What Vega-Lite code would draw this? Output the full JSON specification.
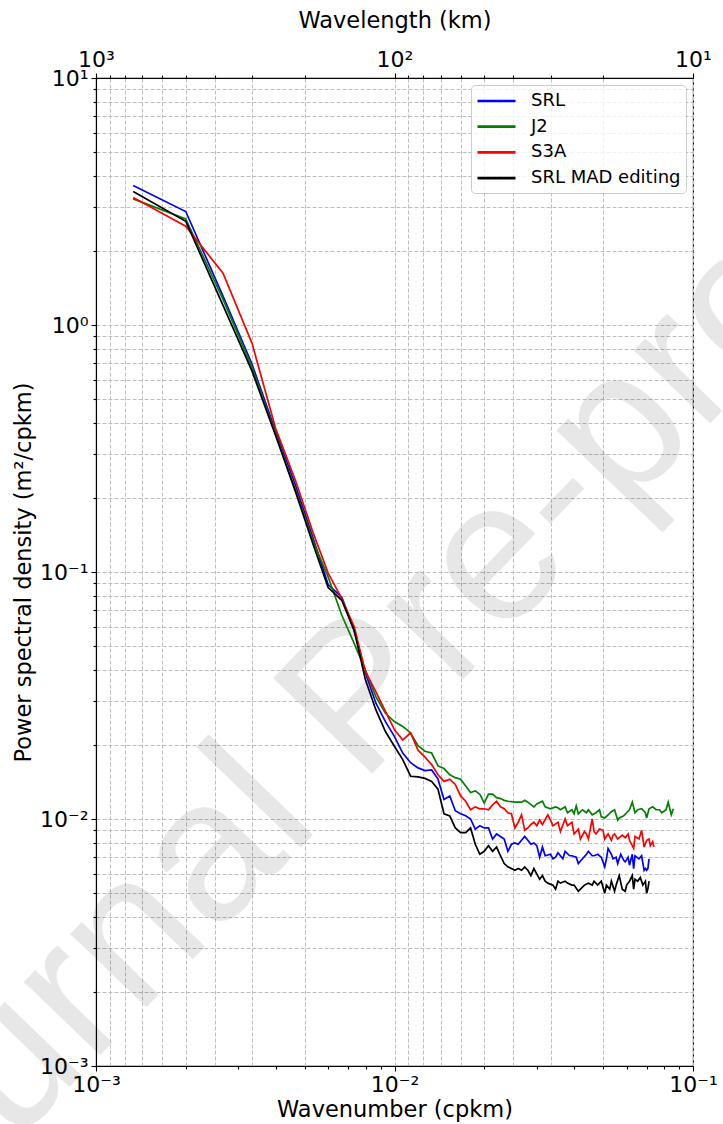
{
  "$schema": "https://vega.github.io/schema/vega-lite/v6.json",
  "autosize": {"type": "none"},
  "padding": {"left": 96, "top": 78, "right": 30, "bottom": 58},
  "width": 597,
  "height": 988,
  "background": "white",
  "config": {
    "font": "DejaVu Sans",
    "view": {"stroke": "#000000", "strokeWidth": 1.1},
    "axis": {
      "labelFont": "DejaVu Sans", "titleFont": "DejaVu Sans",
      "labelColor": "#000000", "titleColor": "#000000",
      "titleFontWeight": "normal", "domainColor": "#000000", "tickColor": "#000000",
      "tickWidth": 1.1, "domainWidth": 1.1,
      "labelFlush": false, "labelOverlap": false, "labelBound": false
    },
    "legend": {
      "orient": "top-right", "offset": 7,
      "symbolType": "M-1,0H3", "symbolSize": 361, "symbolStrokeWidth": 2.7,
      "labelFont": "DejaVu Sans", "labelFontSize": 18, "labelColor": "#000000", "labelOffset": 33,
      "fillColor": "rgba(255,255,255,0.8)", "strokeColor": "#cccccc", "cornerRadius": 4,
      "padding": 5, "rowPadding": 5.7
    }
  },
  "datasets": {
    "psd": [
      {"mission":"SRL","k":0.001332,"psd":3.67},{"mission":"SRL","k":0.001998,"psd":2.88},{"mission":"SRL","k":0.002664,"psd":1.31},{"mission":"SRL","k":0.00333,"psd":0.695},{"mission":"SRL","k":0.003996,"psd":0.372},{"mission":"SRL","k":0.004662,"psd":0.224},{"mission":"SRL","k":0.005328,"psd":0.138},{"mission":"SRL","k":0.005994,"psd":0.089},{"mission":"SRL","k":0.00666,"psd":0.079},{"mission":"SRL","k":0.007326,"psd":0.058},{"mission":"SRL","k":0.007992,"psd":0.039},{"mission":"SRL","k":0.008658,"psd":0.0295},{"mission":"SRL","k":0.009324,"psd":0.0248},{"mission":"SRL","k":0.00999,"psd":0.0216},{"mission":"SRL","k":0.010656,"psd":0.0185},{"mission":"SRL","k":0.011322,"psd":0.0169},{"mission":"SRL","k":0.011988,"psd":0.0161},{"mission":"SRL","k":0.012654,"psd":0.0157},{"mission":"SRL","k":0.01332,"psd":0.0158},{"mission":"SRL","k":0.013986,"psd":0.0145},{"mission":"SRL","k":0.014652,"psd":0.012},{"mission":"SRL","k":0.015318,"psd":0.0124},{"mission":"SRL","k":0.015984,"psd":0.0108},{"mission":"SRL","k":0.01665,"psd":0.0105},{"mission":"SRL","k":0.017316,"psd":0.0103},{"mission":"SRL","k":0.017982,"psd":0.01},{"mission":"SRL","k":0.018648,"psd":0.0091},{"mission":"SRL","k":0.019314,"psd":0.0094},{"mission":"SRL","k":0.01998,"psd":0.0092},{"mission":"SRL","k":0.020646,"psd":0.0092},{"mission":"SRL","k":0.021312,"psd":0.0083},{"mission":"SRL","k":0.021978,"psd":0.0087},{"mission":"SRL","k":0.022644,"psd":0.0085},{"mission":"SRL","k":0.02331,"psd":0.0083},{"mission":"SRL","k":0.023976,"psd":0.0074},{"mission":"SRL","k":0.024642,"psd":0.0079},{"mission":"SRL","k":0.025308,"psd":0.008},{"mission":"SRL","k":0.025974,"psd":0.0079},{"mission":"SRL","k":0.02664,"psd":0.0082},{"mission":"SRL","k":0.027306,"psd":0.0085},{"mission":"SRL","k":0.027972,"psd":0.0082},{"mission":"SRL","k":0.028638,"psd":0.0079},{"mission":"SRL","k":0.029304,"psd":0.008},{"mission":"SRL","k":0.02997,"psd":0.0078},{"mission":"SRL","k":0.030636,"psd":0.007},{"mission":"SRL","k":0.031302,"psd":0.0077},{"mission":"SRL","k":0.031968,"psd":0.0071},{"mission":"SRL","k":0.0333,"psd":0.0072},{"mission":"SRL","k":0.033966,"psd":0.0069},{"mission":"SRL","k":0.034632,"psd":0.007},{"mission":"SRL","k":0.035298,"psd":0.0073},{"mission":"SRL","k":0.03663,"psd":0.0069},{"mission":"SRL","k":0.037296,"psd":0.0074},{"mission":"SRL","k":0.038628,"psd":0.0071},{"mission":"SRL","k":0.039294,"psd":0.0071},{"mission":"SRL","k":0.040626,"psd":0.007},{"mission":"SRL","k":0.041292,"psd":0.0066},{"mission":"SRL","k":0.042624,"psd":0.0069},{"mission":"SRL","k":0.043956,"psd":0.0072},{"mission":"SRL","k":0.044622,"psd":0.0074},{"mission":"SRL","k":0.045954,"psd":0.0071},{"mission":"SRL","k":0.04662,"psd":0.0071},{"mission":"SRL","k":0.047952,"psd":0.0072},{"mission":"SRL","k":0.049284,"psd":0.007},{"mission":"SRL","k":0.050616,"psd":0.0064},{"mission":"SRL","k":0.051282,"psd":0.0069},{"mission":"SRL","k":0.051948,"psd":0.0076},{"mission":"SRL","k":0.05328,"psd":0.0072},{"mission":"SRL","k":0.053946,"psd":0.0069},{"mission":"SRL","k":0.055278,"psd":0.007},{"mission":"SRL","k":0.055944,"psd":0.0066},{"mission":"SRL","k":0.057276,"psd":0.0072},{"mission":"SRL","k":0.058608,"psd":0.0068},{"mission":"SRL","k":0.059274,"psd":0.0067},{"mission":"SRL","k":0.060606,"psd":0.007},{"mission":"SRL","k":0.061272,"psd":0.0065},{"mission":"SRL","k":0.062604,"psd":0.0072},{"mission":"SRL","k":0.06327,"psd":0.0063},{"mission":"SRL","k":0.063936,"psd":0.0071},{"mission":"SRL","k":0.065934,"psd":0.0069},{"mission":"SRL","k":0.067266,"psd":0.0071},{"mission":"SRL","k":0.068598,"psd":0.0062},{"mission":"SRL","k":0.069264,"psd":0.0063},{"mission":"SRL","k":0.06993,"psd":0.0062},{"mission":"SRL","k":0.070596,"psd":0.0063},{"mission":"SRL","k":0.071262,"psd":0.0069},
      {"mission":"J2","k":0.001332,"psd":3.24},{"mission":"J2","k":0.001998,"psd":2.69},{"mission":"J2","k":0.002664,"psd":1.27},{"mission":"J2","k":0.00333,"psd":0.675},{"mission":"J2","k":0.003996,"psd":0.362},{"mission":"J2","k":0.004662,"psd":0.214},{"mission":"J2","k":0.005328,"psd":0.134},{"mission":"J2","k":0.005994,"psd":0.0955},{"mission":"J2","k":0.00666,"psd":0.0668},{"mission":"J2","k":0.007326,"psd":0.0514},{"mission":"J2","k":0.007992,"psd":0.0401},{"mission":"J2","k":0.008658,"psd":0.0313},{"mission":"J2","k":0.009324,"psd":0.0268},{"mission":"J2","k":0.00999,"psd":0.0248},{"mission":"J2","k":0.010656,"psd":0.0237},{"mission":"J2","k":0.011322,"psd":0.0223},{"mission":"J2","k":0.011988,"psd":0.0198},{"mission":"J2","k":0.012654,"psd":0.0188},{"mission":"J2","k":0.01332,"psd":0.0185},{"mission":"J2","k":0.013986,"psd":0.0164},{"mission":"J2","k":0.014652,"psd":0.016},{"mission":"J2","k":0.015318,"psd":0.0151},{"mission":"J2","k":0.015984,"psd":0.0147},{"mission":"J2","k":0.01665,"psd":0.0145},{"mission":"J2","k":0.017316,"psd":0.0136},{"mission":"J2","k":0.017982,"psd":0.0128},{"mission":"J2","k":0.018648,"psd":0.013},{"mission":"J2","k":0.019314,"psd":0.0126},{"mission":"J2","k":0.01998,"psd":0.0116},{"mission":"J2","k":0.020646,"psd":0.0126},{"mission":"J2","k":0.021312,"psd":0.0126},{"mission":"J2","k":0.021978,"psd":0.0122},{"mission":"J2","k":0.022644,"psd":0.0121},{"mission":"J2","k":0.02331,"psd":0.0119},{"mission":"J2","k":0.023976,"psd":0.0118},{"mission":"J2","k":0.025308,"psd":0.0117},{"mission":"J2","k":0.02664,"psd":0.0117},{"mission":"J2","k":0.027306,"psd":0.0119},{"mission":"J2","k":0.027972,"psd":0.0117},{"mission":"J2","k":0.029304,"psd":0.0112},{"mission":"J2","k":0.02997,"psd":0.0115},{"mission":"J2","k":0.031302,"psd":0.0118},{"mission":"J2","k":0.031968,"psd":0.0112},{"mission":"J2","k":0.0333,"psd":0.011},{"mission":"J2","k":0.034632,"psd":0.0112},{"mission":"J2","k":0.035298,"psd":0.0111},{"mission":"J2","k":0.035964,"psd":0.0109},{"mission":"J2","k":0.037296,"psd":0.0112},{"mission":"J2","k":0.037962,"psd":0.0106},{"mission":"J2","k":0.039294,"psd":0.0109},{"mission":"J2","k":0.03996,"psd":0.0105},{"mission":"J2","k":0.040626,"psd":0.0113},{"mission":"J2","k":0.041292,"psd":0.0105},{"mission":"J2","k":0.042624,"psd":0.0109},{"mission":"J2","k":0.043956,"psd":0.0106},{"mission":"J2","k":0.044622,"psd":0.0109},{"mission":"J2","k":0.045954,"psd":0.0104},{"mission":"J2","k":0.047286,"psd":0.0106},{"mission":"J2","k":0.048618,"psd":0.0109},{"mission":"J2","k":0.049284,"psd":0.0102},{"mission":"J2","k":0.050616,"psd":0.0101},{"mission":"J2","k":0.051948,"psd":0.0104},{"mission":"J2","k":0.05328,"psd":0.0107},{"mission":"J2","k":0.054612,"psd":0.0109},{"mission":"J2","k":0.055944,"psd":0.0099},{"mission":"J2","k":0.05661,"psd":0.0101},{"mission":"J2","k":0.058608,"psd":0.0103},{"mission":"J2","k":0.05994,"psd":0.0106},{"mission":"J2","k":0.061272,"psd":0.0109},{"mission":"J2","k":0.062604,"psd":0.0117},{"mission":"J2","k":0.063936,"psd":0.0106},{"mission":"J2","k":0.065268,"psd":0.0109},{"mission":"J2","k":0.067266,"psd":0.011},{"mission":"J2","k":0.069264,"psd":0.0106},{"mission":"J2","k":0.06993,"psd":0.0101},{"mission":"J2","k":0.071262,"psd":0.011},{"mission":"J2","k":0.07326,"psd":0.0112},{"mission":"J2","k":0.075258,"psd":0.0109},{"mission":"J2","k":0.077256,"psd":0.0109},{"mission":"J2","k":0.078588,"psd":0.0106},{"mission":"J2","k":0.081252,"psd":0.0109},{"mission":"J2","k":0.082584,"psd":0.0117},{"mission":"J2","k":0.084582,"psd":0.0104},{"mission":"J2","k":0.085914,"psd":0.011},
      {"mission":"S3A","k":0.001332,"psd":3.28},{"mission":"S3A","k":0.001998,"psd":2.51},{"mission":"S3A","k":0.002664,"psd":1.62},{"mission":"S3A","k":0.00333,"psd":0.845},{"mission":"S3A","k":0.003996,"psd":0.382},{"mission":"S3A","k":0.004662,"psd":0.234},{"mission":"S3A","k":0.005328,"psd":0.145},{"mission":"S3A","k":0.005994,"psd":0.099},{"mission":"S3A","k":0.00666,"psd":0.078},{"mission":"S3A","k":0.007326,"psd":0.06},{"mission":"S3A","k":0.007992,"psd":0.0395},{"mission":"S3A","k":0.008658,"psd":0.0328},{"mission":"S3A","k":0.009324,"psd":0.0273},{"mission":"S3A","k":0.00999,"psd":0.023},{"mission":"S3A","k":0.010656,"psd":0.0209},{"mission":"S3A","k":0.011322,"psd":0.0223},{"mission":"S3A","k":0.011988,"psd":0.019},{"mission":"S3A","k":0.012654,"psd":0.0178},{"mission":"S3A","k":0.01332,"psd":0.0166},{"mission":"S3A","k":0.013986,"psd":0.0151},{"mission":"S3A","k":0.014652,"psd":0.0142},{"mission":"S3A","k":0.015318,"psd":0.0145},{"mission":"S3A","k":0.015984,"psd":0.0138},{"mission":"S3A","k":0.01665,"psd":0.0124},{"mission":"S3A","k":0.017316,"psd":0.0118},{"mission":"S3A","k":0.017982,"psd":0.0109},{"mission":"S3A","k":0.018648,"psd":0.0112},{"mission":"S3A","k":0.019314,"psd":0.011},{"mission":"S3A","k":0.01998,"psd":0.011},{"mission":"S3A","k":0.020646,"psd":0.0109},{"mission":"S3A","k":0.021312,"psd":0.0114},{"mission":"S3A","k":0.021978,"psd":0.0118},{"mission":"S3A","k":0.022644,"psd":0.0112},{"mission":"S3A","k":0.02331,"psd":0.011},{"mission":"S3A","k":0.023976,"psd":0.0106},{"mission":"S3A","k":0.024642,"psd":0.0105},{"mission":"S3A","k":0.025308,"psd":0.0092},{"mission":"S3A","k":0.025974,"psd":0.0097},{"mission":"S3A","k":0.02664,"psd":0.0104},{"mission":"S3A","k":0.027306,"psd":0.009},{"mission":"S3A","k":0.027972,"psd":0.0092},{"mission":"S3A","k":0.028638,"psd":0.0095},{"mission":"S3A","k":0.029304,"psd":0.0097},{"mission":"S3A","k":0.02997,"psd":0.0094},{"mission":"S3A","k":0.030636,"psd":0.0099},{"mission":"S3A","k":0.031302,"psd":0.0095},{"mission":"S3A","k":0.032634,"psd":0.0104},{"mission":"S3A","k":0.0333,"psd":0.0099},{"mission":"S3A","k":0.033966,"psd":0.0094},{"mission":"S3A","k":0.035298,"psd":0.0097},{"mission":"S3A","k":0.035964,"psd":0.0089},{"mission":"S3A","k":0.037296,"psd":0.01},{"mission":"S3A","k":0.037962,"psd":0.0094},{"mission":"S3A","k":0.039294,"psd":0.0097},{"mission":"S3A","k":0.03996,"psd":0.0087},{"mission":"S3A","k":0.041292,"psd":0.0091},{"mission":"S3A","k":0.041958,"psd":0.0083},{"mission":"S3A","k":0.04329,"psd":0.0089},{"mission":"S3A","k":0.043956,"psd":0.0087},{"mission":"S3A","k":0.044622,"psd":0.0083},{"mission":"S3A","k":0.045954,"psd":0.01},{"mission":"S3A","k":0.04662,"psd":0.0089},{"mission":"S3A","k":0.047286,"psd":0.0087},{"mission":"S3A","k":0.048618,"psd":0.0091},{"mission":"S3A","k":0.04995,"psd":0.009},{"mission":"S3A","k":0.050616,"psd":0.0083},{"mission":"S3A","k":0.051948,"psd":0.0087},{"mission":"S3A","k":0.05328,"psd":0.0082},{"mission":"S3A","k":0.053946,"psd":0.0086},{"mission":"S3A","k":0.054612,"psd":0.0087},{"mission":"S3A","k":0.055944,"psd":0.0083},{"mission":"S3A","k":0.057942,"psd":0.0086},{"mission":"S3A","k":0.059274,"psd":0.0084},{"mission":"S3A","k":0.060606,"psd":0.0087},{"mission":"S3A","k":0.061272,"psd":0.0082},{"mission":"S3A","k":0.06327,"psd":0.0076},{"mission":"S3A","k":0.063936,"psd":0.0085},{"mission":"S3A","k":0.065934,"psd":0.0083},{"mission":"S3A","k":0.067266,"psd":0.009},{"mission":"S3A","k":0.068598,"psd":0.0077},{"mission":"S3A","k":0.06993,"psd":0.0082},{"mission":"S3A","k":0.071262,"psd":0.0083},{"mission":"S3A","k":0.071928,"psd":0.0078},{"mission":"S3A","k":0.07326,"psd":0.0081},{"mission":"S3A","k":0.073926,"psd":0.0077},
      {"mission":"SRL MAD editing","k":0.001332,"psd":3.47},{"mission":"SRL MAD editing","k":0.001998,"psd":2.63},{"mission":"SRL MAD editing","k":0.002664,"psd":1.2},{"mission":"SRL MAD editing","k":0.00333,"psd":0.652},{"mission":"SRL MAD editing","k":0.003996,"psd":0.357},{"mission":"SRL MAD editing","k":0.004662,"psd":0.211},{"mission":"SRL MAD editing","k":0.005328,"psd":0.13},{"mission":"SRL MAD editing","k":0.005994,"psd":0.0865},{"mission":"SRL MAD editing","k":0.00666,"psd":0.0768},{"mission":"SRL MAD editing","k":0.007326,"psd":0.058},{"mission":"SRL MAD editing","k":0.007992,"psd":0.0366},{"mission":"SRL MAD editing","k":0.008658,"psd":0.0277},{"mission":"SRL MAD editing","k":0.009324,"psd":0.0226},{"mission":"SRL MAD editing","k":0.00999,"psd":0.0197},{"mission":"SRL MAD editing","k":0.010656,"psd":0.0174},{"mission":"SRL MAD editing","k":0.011322,"psd":0.0149},{"mission":"SRL MAD editing","k":0.011988,"psd":0.0148},{"mission":"SRL MAD editing","k":0.012654,"psd":0.0146},{"mission":"SRL MAD editing","k":0.01332,"psd":0.0142},{"mission":"SRL MAD editing","k":0.013986,"psd":0.0132},{"mission":"SRL MAD editing","k":0.014652,"psd":0.0105},{"mission":"SRL MAD editing","k":0.015318,"psd":0.0103},{"mission":"SRL MAD editing","k":0.015984,"psd":0.0092},{"mission":"SRL MAD editing","k":0.01665,"psd":0.0088},{"mission":"SRL MAD editing","k":0.017316,"psd":0.0088},{"mission":"SRL MAD editing","k":0.017982,"psd":0.0092},{"mission":"SRL MAD editing","k":0.018648,"psd":0.0079},{"mission":"SRL MAD editing","k":0.019314,"psd":0.0072},{"mission":"SRL MAD editing","k":0.01998,"psd":0.0074},{"mission":"SRL MAD editing","k":0.020646,"psd":0.0078},{"mission":"SRL MAD editing","k":0.021312,"psd":0.0074},{"mission":"SRL MAD editing","k":0.021978,"psd":0.0077},{"mission":"SRL MAD editing","k":0.022644,"psd":0.0071},{"mission":"SRL MAD editing","k":0.02331,"psd":0.0066},{"mission":"SRL MAD editing","k":0.023976,"psd":0.0064},{"mission":"SRL MAD editing","k":0.024642,"psd":0.0063},{"mission":"SRL MAD editing","k":0.025308,"psd":0.0062},{"mission":"SRL MAD editing","k":0.025974,"psd":0.0063},{"mission":"SRL MAD editing","k":0.02664,"psd":0.0062},{"mission":"SRL MAD editing","k":0.027306,"psd":0.0064},{"mission":"SRL MAD editing","k":0.027972,"psd":0.0062},{"mission":"SRL MAD editing","k":0.028638,"psd":0.0059},{"mission":"SRL MAD editing","k":0.029304,"psd":0.0063},{"mission":"SRL MAD editing","k":0.030636,"psd":0.0057},{"mission":"SRL MAD editing","k":0.031302,"psd":0.0059},{"mission":"SRL MAD editing","k":0.031968,"psd":0.0056},{"mission":"SRL MAD editing","k":0.032634,"psd":0.0055},{"mission":"SRL MAD editing","k":0.033966,"psd":0.0054},{"mission":"SRL MAD editing","k":0.034632,"psd":0.0052},{"mission":"SRL MAD editing","k":0.035298,"psd":0.0056},{"mission":"SRL MAD editing","k":0.035964,"psd":0.0055},{"mission":"SRL MAD editing","k":0.037296,"psd":0.0056},{"mission":"SRL MAD editing","k":0.037962,"psd":0.0055},{"mission":"SRL MAD editing","k":0.039294,"psd":0.0054},{"mission":"SRL MAD editing","k":0.03996,"psd":0.0054},{"mission":"SRL MAD editing","k":0.041292,"psd":0.0051},{"mission":"SRL MAD editing","k":0.041958,"psd":0.0052},{"mission":"SRL MAD editing","k":0.04329,"psd":0.0054},{"mission":"SRL MAD editing","k":0.044622,"psd":0.0055},{"mission":"SRL MAD editing","k":0.045954,"psd":0.0054},{"mission":"SRL MAD editing","k":0.04662,"psd":0.0056},{"mission":"SRL MAD editing","k":0.047952,"psd":0.0054},{"mission":"SRL MAD editing","k":0.049284,"psd":0.0056},{"mission":"SRL MAD editing","k":0.050616,"psd":0.005},{"mission":"SRL MAD editing","k":0.051282,"psd":0.0054},{"mission":"SRL MAD editing","k":0.052614,"psd":0.0052},{"mission":"SRL MAD editing","k":0.05328,"psd":0.0056},{"mission":"SRL MAD editing","k":0.054612,"psd":0.0051},{"mission":"SRL MAD editing","k":0.055278,"psd":0.0054},{"mission":"SRL MAD editing","k":0.05661,"psd":0.0059},{"mission":"SRL MAD editing","k":0.057942,"psd":0.0052},{"mission":"SRL MAD editing","k":0.059274,"psd":0.0051},{"mission":"SRL MAD editing","k":0.05994,"psd":0.0054},{"mission":"SRL MAD editing","k":0.061272,"psd":0.0056},{"mission":"SRL MAD editing","k":0.062604,"psd":0.0059},{"mission":"SRL MAD editing","k":0.06327,"psd":0.0052},{"mission":"SRL MAD editing","k":0.063936,"psd":0.0057},{"mission":"SRL MAD editing","k":0.065268,"psd":0.0056},{"mission":"SRL MAD editing","k":0.0666,"psd":0.0058},{"mission":"SRL MAD editing","k":0.067932,"psd":0.0054},{"mission":"SRL MAD editing","k":0.069264,"psd":0.0056},{"mission":"SRL MAD editing","k":0.06993,"psd":0.005},{"mission":"SRL MAD editing","k":0.070596,"psd":0.0052},{"mission":"SRL MAD editing","k":0.071262,"psd":0.0056}
    ],
    "watermark": [{"text": "Journal Pre-proof"}]
  },
  "layer": [
    {
      "data": {"name": "watermark"},
      "mark": {"type": "text", "font": "Liberation Sans", "fontSize": 200, "angle": -46, "align": "center", "baseline": "middle", "color": "#000000", "opacity": 0.09},
      "encoding": {
        "x": {"datum": 0.00766, "type": "quantitative", "scale": {"type": "log", "domain": [0.001, 0.1], "nice": false}, "axis": null},
        "y": {"datum": 0.0304, "type": "quantitative", "scale": {"type": "log", "domain": [0.001, 10], "nice": false}, "axis": null},
        "text": {"field": "text"}
      }
    },
    {
      "data": {"name": "psd"},
      "mark": {"type": "point", "opacity": 0},
      "encoding": {
        "x": {
          "field": "k", "type": "quantitative",
          "scale": {"type": "log", "domain": [0.001, 0.1], "nice": false},
          "axis": {
            "orient": "top", "title": "Wavelength (km)", "titleFontSize": 22.5, "titlePadding": 16,
            "values": [0.001, 0.0011111111, 0.00125, 0.0014285714, 0.0016666667, 0.002, 0.0025, 0.0033333333, 0.005, 0.01, 0.011111111, 0.0125, 0.014285714, 0.016666667, 0.02, 0.025, 0.033333333, 0.05, 0.1],
            "labelExpr": "datum.value == 0.001 ? '10³' : datum.value == 0.01 ? '10²' : datum.value == 0.1 ? '10¹' : ''",
            "labelFontSize": 22, "labelPadding": 2,
            "tickSize": {"condition": {"test": "indexof([0.001, 0.01, 0.1], datum.value) >= 0", "value": 5}, "value": 3},
            "grid": true, "gridColor": "#bdbdbd", "gridDash": [4, 2], "gridWidth": 1
          }
        },
        "y": {"field": "psd", "type": "quantitative", "scale": {"type": "log", "domain": [0.001, 10], "nice": false}, "axis": null}
      }
    },
    {
      "data": {"name": "psd"},
      "mark": {"type": "line", "strokeWidth": 1.7, "interpolate": "linear"},
      "encoding": {
        "x": {
          "field": "k", "type": "quantitative",
          "scale": {"type": "log", "domain": [0.001, 0.1], "nice": false},
          "axis": {
            "orient": "bottom", "title": "Wavenumber (cpkm)", "titleFontSize": 22.5, "titlePadding": 3,
            "values": [0.001, 0.002, 0.003, 0.004, 0.005, 0.006, 0.007, 0.008, 0.009, 0.01, 0.02, 0.03, 0.04, 0.05, 0.06, 0.07, 0.08, 0.09, 0.1],
            "labelExpr": "datum.value == 0.001 ? '10⁻³' : datum.value == 0.01 ? '10⁻²' : datum.value == 0.1 ? '10⁻¹' : ''",
            "labelFontSize": 22, "labelPadding": 3,
            "tickSize": {"condition": {"test": "indexof([0.001, 0.01, 0.1], datum.value) >= 0", "value": 5}, "value": 3},
            "grid": false
          }
        },
        "y": {
          "field": "psd", "type": "quantitative",
          "scale": {"type": "log", "domain": [0.001, 10], "nice": false},
          "axis": {
            "orient": "left",
            "title": "Power spectral density (m²/cpkm)", "titleFontSize": 22.5, "titlePadding": 4,
            "values": [0.001, 0.002, 0.003, 0.004, 0.005, 0.006, 0.007, 0.008, 0.009, 0.01, 0.02, 0.03, 0.04, 0.05, 0.06, 0.07, 0.08, 0.09, 0.1, 0.2, 0.3, 0.4, 0.5, 0.6, 0.7, 0.8, 0.9, 1, 2, 3, 4, 5, 6, 7, 8, 9, 10],
            "labelExpr": "datum.value == 10 ? '10¹' : datum.value == 1 ? '10⁰' : datum.value == 0.1 ? '10⁻¹' : datum.value == 0.01 ? '10⁻²' : datum.value == 0.001 ? '10⁻³' : ''",
            "labelFontSize": 22, "labelPadding": 3,
            "tickSize": {"condition": {"test": "indexof([0.001, 0.01, 0.1, 1, 10], datum.value) >= 0", "value": 5}, "value": 3},
            "grid": true, "gridColor": "#bdbdbd", "gridDash": [4, 2], "gridWidth": 1
          }
        },
        "color": {
          "field": "mission", "type": "nominal",
          "scale": {"domain": ["SRL", "J2", "S3A", "SRL MAD editing"], "range": ["#0000ff", "#008000", "#ff0000", "#000000"]},
          "legend": {"title": null}
        }
      }
    }
  ],
  "resolve": {"axis": {"x": "independent", "y": "independent"}}
}
